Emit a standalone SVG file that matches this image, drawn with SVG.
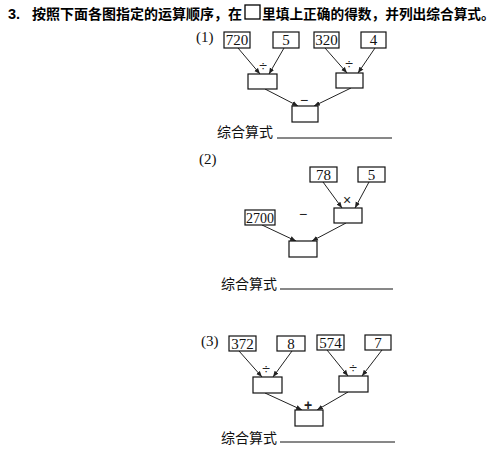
<svg xmlns="http://www.w3.org/2000/svg" width="502" height="455" viewBox="0 0 502 455">
<defs>
<marker id="ah" viewBox="0 0 10 10" refX="10" refY="5" markerWidth="6" markerHeight="6" orient="auto" markerUnits="userSpaceOnUse">
<path d="M0,1 L10,5 L0,9 z" fill="#222"/>
</marker>
</defs>
<style>
.b{fill:#fff;stroke:#111;stroke-width:1.2}
.n{font-family:"Liberation Serif","Times New Roman",serif;font-size:15px;fill:#111;text-anchor:middle}
.lbl{font-family:"Liberation Serif","Times New Roman",serif;font-size:15px;fill:#111}
.op{font-family:"Liberation Sans","DejaVu Sans",sans-serif;font-size:14px;fill:#222;text-anchor:middle}
.cj{font-family:"Noto Sans CJK SC","Noto Sans CJK TC",sans-serif;font-size:14px;fill:#111}
.t{font-family:"Noto Sans CJK SC","Noto Sans CJK TC",sans-serif;font-size:14px;font-weight:bold;fill:#000}
.c line{stroke:#222;stroke-width:1;marker-end:url(#ah)}
.u{stroke:#111;stroke-width:1}
</style>
<rect width="502" height="455" fill="#fff"/>
<g id="title">
<text x="8" y="19" class="t" style="font-family:'Liberation Sans',Arial,sans-serif;font-size:14.5px">3.</text>
<text x="32" y="19" class="t">按照下面各图指定的运算顺序，在</text>
<rect x="245" y="5" width="15" height="14" fill="none" stroke="#000" stroke-width="1.3"/>
<text x="262" y="19" class="t" style="font-size:13.7px">里填上正确的得数，并列出综合算式。</text>
</g>
<g id="connectors" class="c">
<line x1="238" y1="48" x2="260" y2="74"/>
<line x1="284" y1="48" x2="269" y2="74"/>
<line x1="325" y1="48" x2="347" y2="73"/>
<line x1="375" y1="48" x2="358" y2="73"/>
<line x1="265" y1="89" x2="298" y2="106"/>
<line x1="351" y1="88" x2="314" y2="106"/>
<line x1="323" y1="182" x2="342" y2="208"/>
<line x1="369" y1="182" x2="355" y2="208"/>
<line x1="262" y1="225" x2="296" y2="241"/>
<line x1="346" y1="223" x2="312" y2="241"/>
<line x1="239" y1="351" x2="262" y2="377"/>
<line x1="292" y1="351" x2="273" y2="377"/>
<line x1="327" y1="350" x2="348" y2="376"/>
<line x1="382" y1="350" x2="362" y2="376"/>
<line x1="265" y1="393" x2="302" y2="410"/>
<line x1="348" y1="392" x2="317" y2="410"/>
</g>
<g id="diagram1">
<text x="196" y="42" class="lbl">(1)</text>
<g id="n720"><rect class="b" x="224" y="32" width="26" height="16"/><text class="n" x="237" y="45">720</text></g>
<g id="n5a"><rect class="b" x="273" y="32" width="26" height="16"/><text class="n" x="286" y="45">5</text></g>
<g id="n320"><rect class="b" x="314" y="32" width="25" height="16"/><text class="n" x="326.5" y="45">320</text></g>
<g id="n4"><rect class="b" x="361" y="32" width="25" height="16"/><text class="n" x="373.5" y="45">4</text></g>
<g id="d1a"><rect class="b" x="248" y="74" width="29" height="15"/><text class="op" x="263" y="71">÷</text></g>
<g id="d1b"><rect class="b" x="336" y="73" width="27" height="15"/><text class="op" x="349" y="69">÷</text></g>
<g id="r1"><rect class="b" x="292" y="106" width="26" height="16"/><text class="op" x="304" y="105">−</text></g>
<text x="217" y="137" class="cj">综合算式</text>
<line class="u" x1="277" y1="138" x2="392" y2="138"/>
</g>
<g id="diagram2">
<text x="199" y="164" class="lbl">(2)</text>
<g id="n78"><rect class="b" x="310" y="167" width="27" height="15"/><text class="n" x="323.5" y="180">78</text></g>
<g id="n5b"><rect class="b" x="358" y="167" width="27" height="15"/><text class="n" x="371.5" y="180">5</text></g>
<g id="m2"><rect class="b" x="334" y="208" width="28" height="15"/><text class="op" x="347" y="205">×</text></g>
<g id="n2700"><rect class="b" x="245" y="210" width="30" height="15"/><text class="n" x="260" y="223" style="font-size:14px">2700</text></g>
<text class="op" x="303" y="219">−</text>
<g id="r2"><rect class="b" x="289" y="241" width="28" height="16"/></g>
<text x="221" y="289" class="cj">综合算式</text>
<line class="u" x1="280" y1="289" x2="393" y2="289"/>
</g>
<g id="diagram3">
<text x="201" y="346" class="lbl">(3)</text>
<g id="n372"><rect class="b" x="229" y="336" width="27" height="15"/><text class="n" x="242.5" y="349">372</text></g>
<g id="n8"><rect class="b" x="277" y="336" width="28" height="15"/><text class="n" x="291" y="349">8</text></g>
<g id="n574"><rect class="b" x="317" y="335" width="27" height="15"/><text class="n" x="330.5" y="348">574</text></g>
<g id="n7"><rect class="b" x="365" y="335" width="26" height="15"/><text class="n" x="378" y="348">7</text></g>
<g id="d3a"><rect class="b" x="253" y="377" width="29" height="16"/><text class="op" x="266" y="374">÷</text></g>
<g id="d3b"><rect class="b" x="339" y="376" width="29" height="16"/><text class="op" x="353" y="373">÷</text></g>
<g id="r3"><rect class="b" x="295" y="410" width="28" height="16"/><text class="op" x="308" y="410" style="font-weight:bold">+</text></g>
<text x="221" y="443" class="cj">综合算式</text>
<line class="u" x1="280" y1="442" x2="395" y2="442"/>
</g>
</svg>
